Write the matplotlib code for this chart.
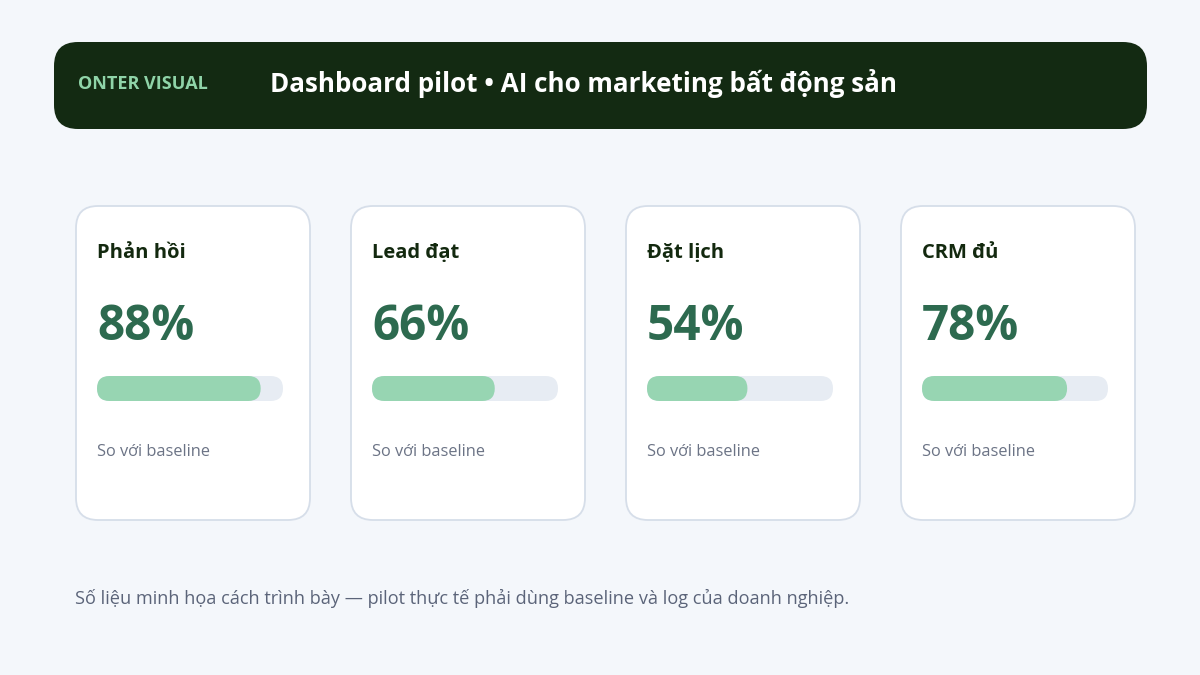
import matplotlib
matplotlib.use("Agg")
import matplotlib.pyplot as plt
from matplotlib.patches import FancyBboxPatch

brand = "ONTER VISUAL"
title = "Dashboard pilot • AI cho marketing bất động sản"
labels = ["Phản hồi", "Lead đạt", "Đặt lịch", "CRM đủ"]
values = [88, 66, 54, 78]
subtitle = "So với baseline"
footer = "Số liệu minh họa cách trình bày — pilot thực tế phải dùng baseline và log của doanh nghiệp."

plt.rcParams['font.family'] = ['Open Sans', 'DejaVu Sans']

W, H = 1200, 675
fig = plt.figure(figsize=(12, 6.75), dpi=100)
fig.patch.set_facecolor("#f4f7fb")
ax = fig.add_axes([0, 0, 1, 1])
ax.set_xlim(0, W)
ax.set_ylim(H, 0)
ax.axis("off")

# header
ax.add_patch(FancyBboxPatch((54, 42), 1093, 87, boxstyle="round,pad=0,rounding_size=24",
                            facecolor="#132a12", edgecolor="none"))
ax.text(78, 84, brand, color="#8fd4a8", fontsize=13.0, fontweight="bold", va="center", ha="left")
ax.text(270, 84, title, color="white", fontsize=18.7, fontweight="bold", va="center", ha="left")

card_x0, card_w, card_gap = 76, 234, 41
card_y0, card_h = 206, 314
bar_w, bar_h = 186, 25
for i, (lab, v) in enumerate(zip(labels, values)):
    x = card_x0 + i * (card_w + card_gap)
    ax.add_patch(FancyBboxPatch((x, card_y0), card_w, card_h,
                                boxstyle="round,pad=0,rounding_size=22",
                                facecolor="white", edgecolor="#d6dee9", linewidth=1.3))
    tx = x + 21
    ax.text(tx, 253, lab, color="#13290f", fontsize=14.5, fontweight="bold", va="center", ha="left")
    ax.text(tx, 327, f"{v}%", color="#2d6a4f", fontsize=34.3, fontweight="bold", va="center", ha="left")
    ax.add_patch(FancyBboxPatch((tx, 376), bar_w, bar_h,
                                boxstyle=f"round,pad=0,rounding_size={bar_h/2}",
                                facecolor="#e7ecf3", edgecolor="none"))
    ax.add_patch(FancyBboxPatch((tx, 376), bar_w * v / 100, bar_h,
                                boxstyle=f"round,pad=0,rounding_size={bar_h/2}",
                                facecolor="#97d5b2", edgecolor="none"))
    ax.text(tx, 452, subtitle, color="#6b7385", fontsize=11.8, va="center", ha="left")

ax.text(75, 598, footer, color="#5b6479", fontsize=13.1, va="center", ha="left")

fig.savefig("out.png", dpi=100, facecolor=fig.get_facecolor())
